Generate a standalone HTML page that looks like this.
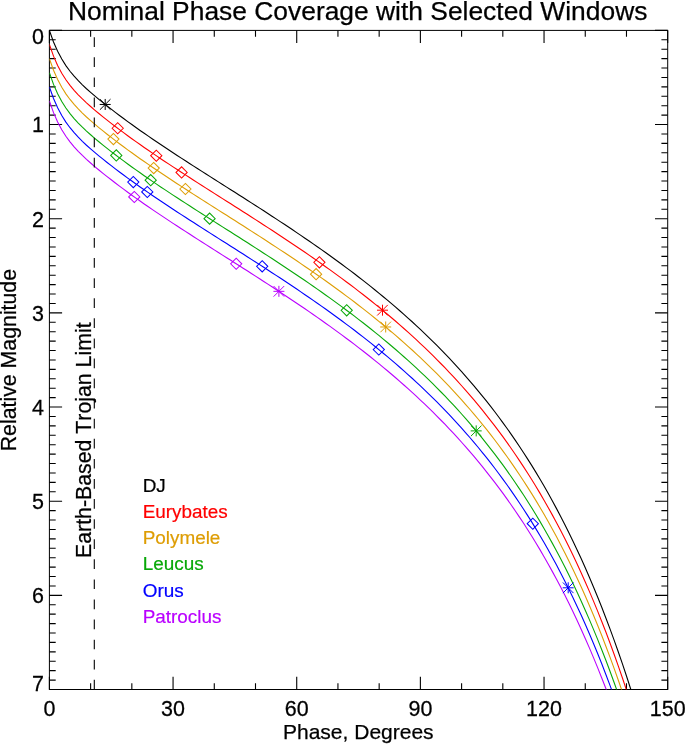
<!DOCTYPE html><html><head><meta charset="utf-8"><title>Nominal Phase Coverage</title><style>html,body{margin:0;padding:0;background:#fff}svg{display:block}text{font-kerning:none}</style></head><body><svg width="685" height="744" viewBox="0 0 685 744">
<rect width="685" height="744" fill="#fff"/>
<defs><clipPath id="c"><rect x="49.4" y="30.4" width="618.3" height="659.1"/></clipPath></defs>
<rect x="49.4" y="30.4" width="618.3000000000001" height="659.1" fill="none" stroke="#000" stroke-width="1.0"/>
<path d="M49.40 689.5v-12.7M49.40 30.4v12.7M90.62 689.5v-6.3M90.62 30.4v6.3M131.84 689.5v-6.3M131.84 30.4v6.3M173.06 689.5v-12.7M173.06 30.4v12.7M214.28 689.5v-6.3M214.28 30.4v6.3M255.50 689.5v-6.3M255.50 30.4v6.3M296.72 689.5v-12.7M296.72 30.4v12.7M337.94 689.5v-6.3M337.94 30.4v6.3M379.16 689.5v-6.3M379.16 30.4v6.3M420.38 689.5v-12.7M420.38 30.4v12.7M461.60 689.5v-6.3M461.60 30.4v6.3M502.82 689.5v-6.3M502.82 30.4v6.3M544.04 689.5v-12.7M544.04 30.4v12.7M585.26 689.5v-6.3M585.26 30.4v6.3M626.48 689.5v-6.3M626.48 30.4v6.3M667.70 689.5v-12.7M667.70 30.4v12.7M49.4 30.40h12.7M667.7 30.40h-12.7M49.4 39.82h6.3M667.7 39.82h-6.3M49.4 49.23h6.3M667.7 49.23h-6.3M49.4 58.65h6.3M667.7 58.65h-6.3M49.4 68.06h6.3M667.7 68.06h-6.3M49.4 77.48h6.3M667.7 77.48h-6.3M49.4 86.89h6.3M667.7 86.89h-6.3M49.4 96.31h6.3M667.7 96.31h-6.3M49.4 105.73h6.3M667.7 105.73h-6.3M49.4 115.14h6.3M667.7 115.14h-6.3M49.4 124.56h12.7M667.7 124.56h-12.7M49.4 133.97h6.3M667.7 133.97h-6.3M49.4 143.39h6.3M667.7 143.39h-6.3M49.4 152.80h6.3M667.7 152.80h-6.3M49.4 162.22h6.3M667.7 162.22h-6.3M49.4 171.64h6.3M667.7 171.64h-6.3M49.4 181.05h6.3M667.7 181.05h-6.3M49.4 190.47h6.3M667.7 190.47h-6.3M49.4 199.88h6.3M667.7 199.88h-6.3M49.4 209.30h6.3M667.7 209.30h-6.3M49.4 218.71h12.7M667.7 218.71h-12.7M49.4 228.13h6.3M667.7 228.13h-6.3M49.4 237.55h6.3M667.7 237.55h-6.3M49.4 246.96h6.3M667.7 246.96h-6.3M49.4 256.38h6.3M667.7 256.38h-6.3M49.4 265.79h6.3M667.7 265.79h-6.3M49.4 275.21h6.3M667.7 275.21h-6.3M49.4 284.62h6.3M667.7 284.62h-6.3M49.4 294.04h6.3M667.7 294.04h-6.3M49.4 303.46h6.3M667.7 303.46h-6.3M49.4 312.87h12.7M667.7 312.87h-12.7M49.4 322.29h6.3M667.7 322.29h-6.3M49.4 331.70h6.3M667.7 331.70h-6.3M49.4 341.12h6.3M667.7 341.12h-6.3M49.4 350.53h6.3M667.7 350.53h-6.3M49.4 359.95h6.3M667.7 359.95h-6.3M49.4 369.37h6.3M667.7 369.37h-6.3M49.4 378.78h6.3M667.7 378.78h-6.3M49.4 388.20h6.3M667.7 388.20h-6.3M49.4 397.61h6.3M667.7 397.61h-6.3M49.4 407.03h12.7M667.7 407.03h-12.7M49.4 416.44h6.3M667.7 416.44h-6.3M49.4 425.86h6.3M667.7 425.86h-6.3M49.4 435.28h6.3M667.7 435.28h-6.3M49.4 444.69h6.3M667.7 444.69h-6.3M49.4 454.11h6.3M667.7 454.11h-6.3M49.4 463.52h6.3M667.7 463.52h-6.3M49.4 472.94h6.3M667.7 472.94h-6.3M49.4 482.35h6.3M667.7 482.35h-6.3M49.4 491.77h6.3M667.7 491.77h-6.3M49.4 501.19h12.7M667.7 501.19h-12.7M49.4 510.60h6.3M667.7 510.60h-6.3M49.4 520.02h6.3M667.7 520.02h-6.3M49.4 529.43h6.3M667.7 529.43h-6.3M49.4 538.85h6.3M667.7 538.85h-6.3M49.4 548.26h6.3M667.7 548.26h-6.3M49.4 557.68h6.3M667.7 557.68h-6.3M49.4 567.10h6.3M667.7 567.10h-6.3M49.4 576.51h6.3M667.7 576.51h-6.3M49.4 585.93h6.3M667.7 585.93h-6.3M49.4 595.34h12.7M667.7 595.34h-12.7M49.4 604.76h6.3M667.7 604.76h-6.3M49.4 614.17h6.3M667.7 614.17h-6.3M49.4 623.59h6.3M667.7 623.59h-6.3M49.4 633.01h6.3M667.7 633.01h-6.3M49.4 642.42h6.3M667.7 642.42h-6.3M49.4 651.84h6.3M667.7 651.84h-6.3M49.4 661.25h6.3M667.7 661.25h-6.3M49.4 670.67h6.3M667.7 670.67h-6.3M49.4 680.08h6.3M667.7 680.08h-6.3M49.4 689.50h12.7M667.7 689.50h-12.7" stroke="#000" stroke-width="1.1" fill="none"/>
<polyline clip-path="url(#c)" fill="none" stroke="#000000" stroke-width="1.1" points="49.40,30.40 53.52,42.02 57.64,51.34 61.77,59.05 65.89,65.58 70.01,71.23 74.13,76.22 78.25,80.72 82.38,84.85 86.50,88.72 90.62,92.40 94.74,95.93 98.86,99.35 102.99,102.69 107.11,105.97 111.23,109.18 115.35,112.35 119.47,115.47 123.60,118.55 127.72,121.58 131.84,124.57 135.96,127.52 140.08,130.43 144.21,133.31 148.33,136.16 152.45,138.98 156.57,141.77 160.69,144.54 164.82,147.29 168.94,150.02 173.06,152.73 177.18,155.43 181.30,158.11 185.43,160.78 189.55,163.44 193.67,166.09 197.79,168.73 201.91,171.36 206.04,173.99 210.16,176.61 214.28,179.23 218.40,181.85 222.52,184.47 226.65,187.09 230.77,189.70 234.89,192.33 239.01,194.95 243.13,197.58 247.26,200.21 251.38,202.85 255.50,205.50 259.62,208.15 263.74,210.82 267.87,213.49 271.99,216.18 276.11,218.88 280.23,221.59 284.35,224.32 288.48,227.06 292.60,229.81 296.72,232.59 300.84,235.38 304.96,238.19 309.09,241.02 313.21,243.88 317.33,246.75 321.45,249.65 325.57,252.57 329.70,255.52 333.82,258.49 337.94,261.50 342.06,264.53 346.18,267.59 350.31,270.68 354.43,273.81 358.55,276.97 362.67,280.16 366.79,283.39 370.92,286.66 375.04,289.97 379.16,293.32 383.28,296.71 387.40,300.15 391.53,303.63 395.65,307.16 399.77,310.73 403.89,314.36 408.01,318.04 412.14,321.78 416.26,325.57 420.38,329.42 424.50,333.33 428.62,337.30 432.75,341.34 436.87,345.44 440.99,349.62 445.11,353.86 449.23,358.19 453.36,362.59 457.48,367.07 461.60,371.63 465.72,376.28 469.84,381.02 473.97,385.85 478.09,390.78 482.21,395.80 486.33,400.94 490.45,406.17 494.58,411.52 498.70,416.99 502.82,422.57 506.94,428.28 511.06,434.12 515.19,440.09 519.31,446.20 523.43,452.45 527.55,458.86 531.67,465.41 535.80,472.13 539.92,479.02 544.04,486.08 548.16,493.32 552.28,500.75 556.41,508.37 560.53,516.19 564.65,524.22 568.77,532.47 572.89,540.94 577.02,549.65 581.14,558.60 585.26,567.80 589.38,577.26 593.50,587.00 597.63,597.01 601.75,607.32 605.87,617.93 609.99,628.86 614.11,640.12 618.24,651.72 622.36,663.68 626.48,676.01 630.60,688.74 634.72,701.88 638.85,715.45 642.97,729.49"/>
<polyline clip-path="url(#c)" fill="none" stroke="#ff0000" stroke-width="1.1" points="49.40,44.52 53.52,56.14 57.64,65.47 61.77,73.18 65.89,79.70 70.01,85.35 74.13,90.34 78.25,94.84 82.38,98.98 86.50,102.85 90.62,106.52 94.74,110.05 98.86,113.48 102.99,116.82 107.11,120.09 111.23,123.31 115.35,126.48 119.47,129.59 123.60,132.67 127.72,135.70 131.84,138.69 135.96,141.64 140.08,144.56 144.21,147.44 148.33,150.29 152.45,153.10 156.57,155.90 160.69,158.67 164.82,161.42 168.94,164.15 173.06,166.86 177.18,169.55 181.30,172.24 185.43,174.91 189.55,177.56 193.67,180.21 197.79,182.85 201.91,185.49 206.04,188.11 210.16,190.74 214.28,193.36 218.40,195.98 222.52,198.59 226.65,201.21 230.77,203.83 234.89,206.45 239.01,209.07 243.13,211.70 247.26,214.33 251.38,216.97 255.50,219.62 259.62,222.28 263.74,224.94 267.87,227.62 271.99,230.30 276.11,233.00 280.23,235.71 284.35,238.44 288.48,241.18 292.60,243.94 296.72,246.71 300.84,249.50 304.96,252.32 309.09,255.15 313.21,258.00 317.33,260.87 321.45,263.77 325.57,266.70 329.70,269.64 333.82,272.62 337.94,275.62 342.06,278.65 346.18,281.71 350.31,284.81 354.43,287.93 358.55,291.09 362.67,294.29 366.79,297.52 370.92,300.79 375.04,304.09 379.16,307.44 383.28,310.83 387.40,314.27 391.53,317.75 395.65,321.28 399.77,324.86 403.89,328.48 408.01,332.16 412.14,335.90 416.26,339.69 420.38,343.54 424.50,347.45 428.62,351.42 432.75,355.46 436.87,359.57 440.99,363.74 445.11,367.99 449.23,372.31 453.36,376.71 457.48,381.19 461.60,385.75 465.72,390.40 469.84,395.14 473.97,399.97 478.09,404.90 482.21,409.93 486.33,415.06 490.45,420.30 494.58,425.65 498.70,431.11 502.82,436.70 506.94,442.40 511.06,448.24 515.19,454.21 519.31,460.32 523.43,466.58 527.55,472.98 531.67,479.54 535.80,486.26 539.92,493.14 544.04,500.20 548.16,507.44 552.28,514.87 556.41,522.49 560.53,530.31 564.65,538.34 568.77,546.59 572.89,555.07 577.02,563.77 581.14,572.72 585.26,581.92 589.38,591.39 593.50,601.12 597.63,611.14 601.75,621.44 605.87,632.06 609.99,642.98 614.11,654.24 618.24,665.84 622.36,677.80 626.48,690.13 630.60,702.86 634.72,716.00 638.85,729.57"/>
<polyline clip-path="url(#c)" fill="none" stroke="#de9d04" stroke-width="1.1" points="49.40,58.65 53.52,70.27 57.64,79.59 61.77,87.30 65.89,93.83 70.01,99.47 74.13,104.46 78.25,108.96 82.38,113.10 86.50,116.97 90.62,120.64 94.74,124.18 98.86,127.60 102.99,130.94 107.11,134.21 111.23,137.43 115.35,140.60 119.47,143.72 123.60,146.79 127.72,149.82 131.84,152.81 135.96,155.77 140.08,158.68 144.21,161.56 148.33,164.41 152.45,167.23 156.57,170.02 160.69,172.79 164.82,175.54 168.94,178.27 173.06,180.98 177.18,183.68 181.30,186.36 185.43,189.03 189.55,191.69 193.67,194.34 197.79,196.98 201.91,199.61 206.04,202.24 210.16,204.86 214.28,207.48 218.40,210.10 222.52,212.72 226.65,215.33 230.77,217.95 234.89,220.57 239.01,223.20 243.13,225.82 247.26,228.46 251.38,231.10 255.50,233.74 259.62,236.40 263.74,239.06 267.87,241.74 271.99,244.43 276.11,247.12 280.23,249.84 284.35,252.56 288.48,255.30 292.60,258.06 296.72,260.83 300.84,263.63 304.96,266.44 309.09,269.27 313.21,272.12 317.33,275.00 321.45,277.90 325.57,280.82 329.70,283.77 333.82,286.74 337.94,289.74 342.06,292.78 346.18,295.84 350.31,298.93 354.43,302.06 358.55,305.21 362.67,308.41 366.79,311.64 370.92,314.91 375.04,318.22 379.16,321.57 383.28,324.96 387.40,328.39 391.53,331.87 395.65,335.40 399.77,338.98 403.89,342.61 408.01,346.29 412.14,350.02 416.26,353.81 420.38,357.66 424.50,361.57 428.62,365.55 432.75,369.58 436.87,373.69 440.99,377.86 445.11,382.11 449.23,386.43 453.36,390.83 457.48,395.31 461.60,399.88 465.72,404.53 469.84,409.26 473.97,414.10 478.09,419.02 482.21,424.05 486.33,429.18 490.45,434.42 494.58,439.77 498.70,445.23 502.82,450.82 506.94,456.53 511.06,462.37 515.19,468.34 519.31,474.45 523.43,480.70 527.55,487.10 531.67,493.66 535.80,500.38 539.92,507.27 544.04,514.33 548.16,521.57 552.28,528.99 556.41,536.61 560.53,544.44 564.65,552.47 568.77,560.72 572.89,569.19 577.02,577.90 581.14,586.85 585.26,596.05 589.38,605.51 593.50,615.24 597.63,625.26 601.75,635.57 605.87,646.18 609.99,657.11 614.11,668.37 618.24,679.97 622.36,691.92 626.48,704.26 630.60,716.98 634.72,730.12"/>
<polyline clip-path="url(#c)" fill="none" stroke="#08a808" stroke-width="1.1" points="49.40,72.77 53.52,84.39 57.64,93.72 61.77,101.42 65.89,107.95 70.01,113.60 74.13,118.59 78.25,123.09 82.38,127.22 86.50,131.09 90.62,134.77 94.74,138.30 98.86,141.72 102.99,145.06 107.11,148.34 111.23,151.56 115.35,154.72 119.47,157.84 123.60,160.92 127.72,163.95 131.84,166.94 135.96,169.89 140.08,172.80 144.21,175.68 148.33,178.53 152.45,181.35 156.57,184.15 160.69,186.92 164.82,189.66 168.94,192.39 173.06,195.10 177.18,197.80 181.30,200.48 185.43,203.15 189.55,205.81 193.67,208.46 197.79,211.10 201.91,213.73 206.04,216.36 210.16,218.99 214.28,221.61 218.40,224.22 222.52,226.84 226.65,229.46 230.77,232.08 234.89,234.70 239.01,237.32 243.13,239.95 247.26,242.58 251.38,245.22 255.50,247.87 259.62,250.52 263.74,253.19 267.87,255.86 271.99,258.55 276.11,261.25 280.23,263.96 284.35,266.69 288.48,269.43 292.60,272.18 296.72,274.96 300.84,277.75 304.96,280.56 309.09,283.39 313.21,286.25 317.33,289.12 321.45,292.02 325.57,294.94 329.70,297.89 333.82,300.87 337.94,303.87 342.06,306.90 346.18,309.96 350.31,313.05 354.43,316.18 358.55,319.34 362.67,322.53 366.79,325.76 370.92,329.03 375.04,332.34 379.16,335.69 383.28,339.08 387.40,342.52 391.53,346.00 395.65,349.53 399.77,353.10 403.89,356.73 408.01,360.41 412.14,364.15 416.26,367.94 420.38,371.79 424.50,375.70 428.62,379.67 432.75,383.71 436.87,387.81 440.99,391.99 445.11,396.24 449.23,400.56 453.36,404.96 457.48,409.44 461.60,414.00 465.72,418.65 469.84,423.39 473.97,428.22 478.09,433.15 482.21,438.17 486.33,443.31 490.45,448.54 494.58,453.89 498.70,459.36 502.82,464.94 506.94,470.65 511.06,476.49 515.19,482.46 519.31,488.57 523.43,494.82 527.55,501.23 531.67,507.79 535.80,514.50 539.92,521.39 544.04,528.45 548.16,535.69 552.28,543.12 556.41,550.74 560.53,558.56 564.65,566.59 568.77,574.84 572.89,583.31 577.02,592.02 581.14,600.97 585.26,610.17 589.38,619.63 593.50,629.37 597.63,639.38 601.75,649.69 605.87,660.30 609.99,671.23 614.11,682.49 618.24,694.09 622.36,706.05 626.48,718.38"/>
<polyline clip-path="url(#c)" fill="none" stroke="#0000ff" stroke-width="1.1" points="49.40,86.89 53.52,98.51 57.64,107.84 61.77,115.55 65.89,122.07 70.01,127.72 74.13,132.71 78.25,137.21 82.38,141.35 86.50,145.22 90.62,148.89 94.74,152.42 98.86,155.85 102.99,159.19 107.11,162.46 111.23,165.68 115.35,168.85 119.47,171.97 123.60,175.04 127.72,178.07 131.84,181.06 135.96,184.01 140.08,186.93 144.21,189.81 148.33,192.66 152.45,195.48 156.57,198.27 160.69,201.04 164.82,203.79 168.94,206.52 173.06,209.23 177.18,211.92 181.30,214.61 185.43,217.28 189.55,219.93 193.67,222.58 197.79,225.22 201.91,227.86 206.04,230.49 210.16,233.11 214.28,235.73 218.40,238.35 222.52,240.96 226.65,243.58 230.77,246.20 234.89,248.82 239.01,251.44 243.13,254.07 247.26,256.70 251.38,259.34 255.50,261.99 259.62,264.65 263.74,267.31 267.87,269.99 271.99,272.67 276.11,275.37 280.23,278.08 284.35,280.81 288.48,283.55 292.60,286.31 296.72,289.08 300.84,291.87 304.96,294.69 309.09,297.52 313.21,300.37 317.33,303.25 321.45,306.14 325.57,309.07 329.70,312.01 333.82,314.99 337.94,317.99 342.06,321.02 346.18,324.08 350.31,327.18 354.43,330.30 358.55,333.46 362.67,336.66 366.79,339.89 370.92,343.16 375.04,346.46 379.16,349.81 383.28,353.21 387.40,356.64 391.53,360.12 395.65,363.65 399.77,367.23 403.89,370.85 408.01,374.54 412.14,378.27 416.26,382.06 420.38,385.91 424.50,389.82 428.62,393.79 432.75,397.83 436.87,401.94 440.99,406.11 445.11,410.36 449.23,414.68 453.36,419.08 457.48,423.56 461.60,428.12 465.72,432.77 469.84,437.51 473.97,442.34 478.09,447.27 482.21,452.30 486.33,457.43 490.45,462.67 494.58,468.02 498.70,473.48 502.82,479.07 506.94,484.77 511.06,490.61 515.19,496.58 519.31,502.69 523.43,508.95 527.55,515.35 531.67,521.91 535.80,528.63 539.92,535.51 544.04,542.57 548.16,549.81 552.28,557.24 556.41,564.86 560.53,572.68 564.65,580.72 568.77,588.96 572.89,597.44 577.02,606.14 581.14,615.09 585.26,624.29 589.38,633.76 593.50,643.49 597.63,653.51 601.75,663.81 605.87,674.43 609.99,685.35 614.11,696.61 618.24,708.21 622.36,720.17"/>
<polyline clip-path="url(#c)" fill="none" stroke="#ba00ff" stroke-width="1.1" points="49.40,101.02 53.52,112.64 57.64,121.96 61.77,129.67 65.89,136.20 70.01,141.84 74.13,146.83 78.25,151.33 82.38,155.47 86.50,159.34 90.62,163.02 94.74,166.55 98.86,169.97 102.99,173.31 107.11,176.59 111.23,179.80 115.35,182.97 119.47,186.09 123.60,189.16 127.72,192.19 131.84,195.19 135.96,198.14 140.08,201.05 144.21,203.93 148.33,206.78 152.45,209.60 156.57,212.39 160.69,215.16 164.82,217.91 168.94,220.64 173.06,223.35 177.18,226.05 181.30,228.73 185.43,231.40 189.55,234.06 193.67,236.71 197.79,239.35 201.91,241.98 206.04,244.61 210.16,247.23 214.28,249.85 218.40,252.47 222.52,255.09 226.65,257.70 230.77,260.32 234.89,262.94 239.01,265.57 243.13,268.19 247.26,270.83 251.38,273.47 255.50,276.12 259.62,278.77 263.74,281.44 267.87,284.11 271.99,286.80 276.11,289.50 280.23,292.21 284.35,294.93 288.48,297.67 292.60,300.43 296.72,303.21 300.84,306.00 304.96,308.81 309.09,311.64 313.21,314.49 317.33,317.37 321.45,320.27 325.57,323.19 329.70,326.14 333.82,329.11 337.94,332.12 342.06,335.15 346.18,338.21 350.31,341.30 354.43,344.43 358.55,347.59 362.67,350.78 366.79,354.01 370.92,357.28 375.04,360.59 379.16,363.94 383.28,367.33 387.40,370.76 391.53,374.25 395.65,377.77 399.77,381.35 403.89,384.98 408.01,388.66 412.14,392.39 416.26,396.18 420.38,400.03 424.50,403.94 428.62,407.92 432.75,411.96 436.87,416.06 440.99,420.24 445.11,424.48 449.23,428.80 453.36,433.20 457.48,437.68 461.60,442.25 465.72,446.90 469.84,451.64 473.97,456.47 478.09,461.39 482.21,466.42 486.33,471.55 490.45,476.79 494.58,482.14 498.70,487.61 502.82,493.19 506.94,498.90 511.06,504.74 515.19,510.71 519.31,516.82 523.43,523.07 527.55,529.47 531.67,536.03 535.80,542.75 539.92,549.64 544.04,556.70 548.16,563.94 552.28,571.36 556.41,578.99 560.53,586.81 564.65,594.84 568.77,603.09 572.89,611.56 577.02,620.27 581.14,629.22 585.26,638.42 589.38,647.88 593.50,657.61 597.63,667.63 601.75,677.94 605.87,688.55 609.99,699.48 614.11,710.74 618.24,722.34"/>
<path d="M99.70 104.46H110.70M105.20 98.96V109.96M99.90 99.16L110.50 109.76M99.90 109.76L110.50 99.16" fill="none" stroke="#000000" stroke-width="1.0"/>
<path d="M112.10 128.26L117.70 122.66L123.30 128.26L117.70 133.86Z" fill="none" stroke="#ff0000" stroke-width="1.02"/>
<path d="M150.70 155.71L156.30 150.11L161.90 155.71L156.30 161.31Z" fill="none" stroke="#ff0000" stroke-width="1.02"/>
<path d="M176.00 172.43L181.60 166.83L187.20 172.43L181.60 178.03Z" fill="none" stroke="#ff0000" stroke-width="1.02"/>
<path d="M313.80 262.33L319.40 256.73L325.00 262.33L319.40 267.93Z" fill="none" stroke="#ff0000" stroke-width="1.02"/>
<path d="M377.00 310.19H388.00M382.50 304.69V315.69M377.20 304.89L387.80 315.49M377.20 315.49L387.80 304.89" fill="none" stroke="#ff0000" stroke-width="1.0"/>
<path d="M107.80 139.11L113.40 133.51L119.00 139.11L113.40 144.71Z" fill="none" stroke="#de9d04" stroke-width="1.02"/>
<path d="M148.10 168.08L153.70 162.48L159.30 168.08L153.70 173.68Z" fill="none" stroke="#de9d04" stroke-width="1.02"/>
<path d="M179.80 189.01L185.40 183.41L191.00 189.01L185.40 194.61Z" fill="none" stroke="#de9d04" stroke-width="1.02"/>
<path d="M310.50 274.14L316.10 268.54L321.70 274.14L316.10 279.74Z" fill="none" stroke="#de9d04" stroke-width="1.02"/>
<path d="M380.20 326.97H391.20M385.70 321.47V332.47M380.40 321.67L391.00 332.27M380.40 332.27L391.00 321.67" fill="none" stroke="#de9d04" stroke-width="1.0"/>
<path d="M110.70 155.44L116.30 149.84L121.90 155.44L116.30 161.04Z" fill="none" stroke="#08a808" stroke-width="1.02"/>
<path d="M145.10 180.16L150.70 174.56L156.30 180.16L150.70 185.76Z" fill="none" stroke="#08a808" stroke-width="1.02"/>
<path d="M204.00 218.63L209.60 213.03L215.20 218.63L209.60 224.23Z" fill="none" stroke="#08a808" stroke-width="1.02"/>
<path d="M341.10 310.35L346.70 304.75L352.30 310.35L346.70 315.95Z" fill="none" stroke="#08a808" stroke-width="1.02"/>
<path d="M470.70 430.88H481.70M476.20 425.38V436.38M470.90 425.58L481.50 436.18M470.90 436.18L481.50 425.58" fill="none" stroke="#08a808" stroke-width="1.0"/>
<path d="M127.70 182.11L133.30 176.51L138.90 182.11L133.30 187.71Z" fill="none" stroke="#0000ff" stroke-width="1.02"/>
<path d="M141.70 191.95L147.30 186.35L152.90 191.95L147.30 197.55Z" fill="none" stroke="#0000ff" stroke-width="1.02"/>
<path d="M256.60 266.31L262.20 260.71L267.80 266.31L262.20 271.91Z" fill="none" stroke="#0000ff" stroke-width="1.02"/>
<path d="M373.20 349.52L378.80 343.92L384.40 349.52L378.80 355.12Z" fill="none" stroke="#0000ff" stroke-width="1.02"/>
<path d="M527.20 523.73L532.80 518.13L538.40 523.73L532.80 529.33Z" fill="none" stroke="#0000ff" stroke-width="1.02"/>
<path d="M562.70 587.81H573.70M568.20 582.31V593.31M562.90 582.51L573.50 593.11M562.90 593.11L573.50 582.51" fill="none" stroke="#0000ff" stroke-width="1.0"/>
<path d="M128.70 196.95L134.30 191.35L139.90 196.95L134.30 202.55Z" fill="none" stroke="#ba00ff" stroke-width="1.02"/>
<path d="M230.60 263.78L236.20 258.18L241.80 263.78L236.20 269.38Z" fill="none" stroke="#ba00ff" stroke-width="1.02"/>
<path d="M273.40 291.33H284.40M278.90 285.83V296.83M273.60 286.03L284.20 296.63M273.60 296.63L284.20 286.03" fill="none" stroke="#ba00ff" stroke-width="1.0"/>
<line x1="94.3" y1="689.5" x2="94.3" y2="30.4" stroke="#000" stroke-width="1.1" stroke-dasharray="9.7,10.38"/>
<text x="357.7" y="19.9" font-family="Liberation Sans, Arial, Helvetica, sans-serif" font-size="26.4" text-anchor="middle" fill="#000" stroke="#000" stroke-width="0.25">Nominal Phase Coverage with Selected Windows</text>
<text transform="translate(49.40,716.2) scale(1,1.03)" font-family="Liberation Sans, Arial, Helvetica, sans-serif" font-size="21.5" text-anchor="middle" fill="#000" stroke="#000" stroke-width="0.25">0</text>
<text transform="translate(173.06,716.2) scale(1,1.03)" font-family="Liberation Sans, Arial, Helvetica, sans-serif" font-size="21.5" text-anchor="middle" fill="#000" stroke="#000" stroke-width="0.25">30</text>
<text transform="translate(296.72,716.2) scale(1,1.03)" font-family="Liberation Sans, Arial, Helvetica, sans-serif" font-size="21.5" text-anchor="middle" fill="#000" stroke="#000" stroke-width="0.25">60</text>
<text transform="translate(420.38,716.2) scale(1,1.03)" font-family="Liberation Sans, Arial, Helvetica, sans-serif" font-size="21.5" text-anchor="middle" fill="#000" stroke="#000" stroke-width="0.25">90</text>
<text transform="translate(544.04,716.2) scale(1,1.03)" font-family="Liberation Sans, Arial, Helvetica, sans-serif" font-size="21.5" text-anchor="middle" fill="#000" stroke="#000" stroke-width="0.25">120</text>
<text transform="translate(667.70,716.2) scale(1,1.03)" font-family="Liberation Sans, Arial, Helvetica, sans-serif" font-size="21.5" text-anchor="middle" fill="#000" stroke="#000" stroke-width="0.25">150</text>
<text transform="translate(44.0,43.60) scale(1,1.03)" font-family="Liberation Sans, Arial, Helvetica, sans-serif" font-size="21.5" text-anchor="end" fill="#000" stroke="#000" stroke-width="0.25">0</text>
<text transform="translate(44.0,132.36) scale(1,1.03)" font-family="Liberation Sans, Arial, Helvetica, sans-serif" font-size="21.5" text-anchor="end" fill="#000" stroke="#000" stroke-width="0.25">1</text>
<text transform="translate(44.0,226.51) scale(1,1.03)" font-family="Liberation Sans, Arial, Helvetica, sans-serif" font-size="21.5" text-anchor="end" fill="#000" stroke="#000" stroke-width="0.25">2</text>
<text transform="translate(44.0,320.67) scale(1,1.03)" font-family="Liberation Sans, Arial, Helvetica, sans-serif" font-size="21.5" text-anchor="end" fill="#000" stroke="#000" stroke-width="0.25">3</text>
<text transform="translate(44.0,414.83) scale(1,1.03)" font-family="Liberation Sans, Arial, Helvetica, sans-serif" font-size="21.5" text-anchor="end" fill="#000" stroke="#000" stroke-width="0.25">4</text>
<text transform="translate(44.0,508.99) scale(1,1.03)" font-family="Liberation Sans, Arial, Helvetica, sans-serif" font-size="21.5" text-anchor="end" fill="#000" stroke="#000" stroke-width="0.25">5</text>
<text transform="translate(44.0,603.14) scale(1,1.03)" font-family="Liberation Sans, Arial, Helvetica, sans-serif" font-size="21.5" text-anchor="end" fill="#000" stroke="#000" stroke-width="0.25">6</text>
<text transform="translate(44.0,690.50) scale(1,1.03)" font-family="Liberation Sans, Arial, Helvetica, sans-serif" font-size="21.5" text-anchor="end" fill="#000" stroke="#000" stroke-width="0.25">7</text>
<text x="358.3" y="738.7" font-family="Liberation Sans, Arial, Helvetica, sans-serif" font-size="21" text-anchor="middle" fill="#000" stroke="#000" stroke-width="0.25">Phase, Degrees</text>
<text transform="translate(15.8,360.1) rotate(-90)" font-family="Liberation Sans, Arial, Helvetica, sans-serif" font-size="21.3" text-anchor="middle" fill="#000" stroke="#000" stroke-width="0.25">Relative Magnitude</text>
<text transform="translate(91,440.2) rotate(-90)" font-family="Liberation Sans, Arial, Helvetica, sans-serif" font-size="21.3" text-anchor="middle" fill="#000" stroke="#000" stroke-width="0.25">Earth-Based Trojan Limit</text>
<text x="142.7" y="491.50" font-family="Liberation Sans, Arial, Helvetica, sans-serif" font-size="18.9" fill="#000000" stroke="#000000" stroke-width="0.2">DJ</text>
<text x="142.7" y="517.80" font-family="Liberation Sans, Arial, Helvetica, sans-serif" font-size="18.9" fill="#ff0000" stroke="#ff0000" stroke-width="0.2">Eurybates</text>
<text x="142.7" y="544.10" font-family="Liberation Sans, Arial, Helvetica, sans-serif" font-size="18.9" fill="#de9d04" stroke="#de9d04" stroke-width="0.2">Polymele</text>
<text x="142.7" y="570.40" font-family="Liberation Sans, Arial, Helvetica, sans-serif" font-size="18.9" fill="#08a808" stroke="#08a808" stroke-width="0.2">Leucus</text>
<text x="142.7" y="596.70" font-family="Liberation Sans, Arial, Helvetica, sans-serif" font-size="18.9" fill="#0000ff" stroke="#0000ff" stroke-width="0.2">Orus</text>
<text x="142.7" y="623.00" font-family="Liberation Sans, Arial, Helvetica, sans-serif" font-size="18.9" fill="#ba00ff" stroke="#ba00ff" stroke-width="0.2">Patroclus</text>
</svg></body></html>
